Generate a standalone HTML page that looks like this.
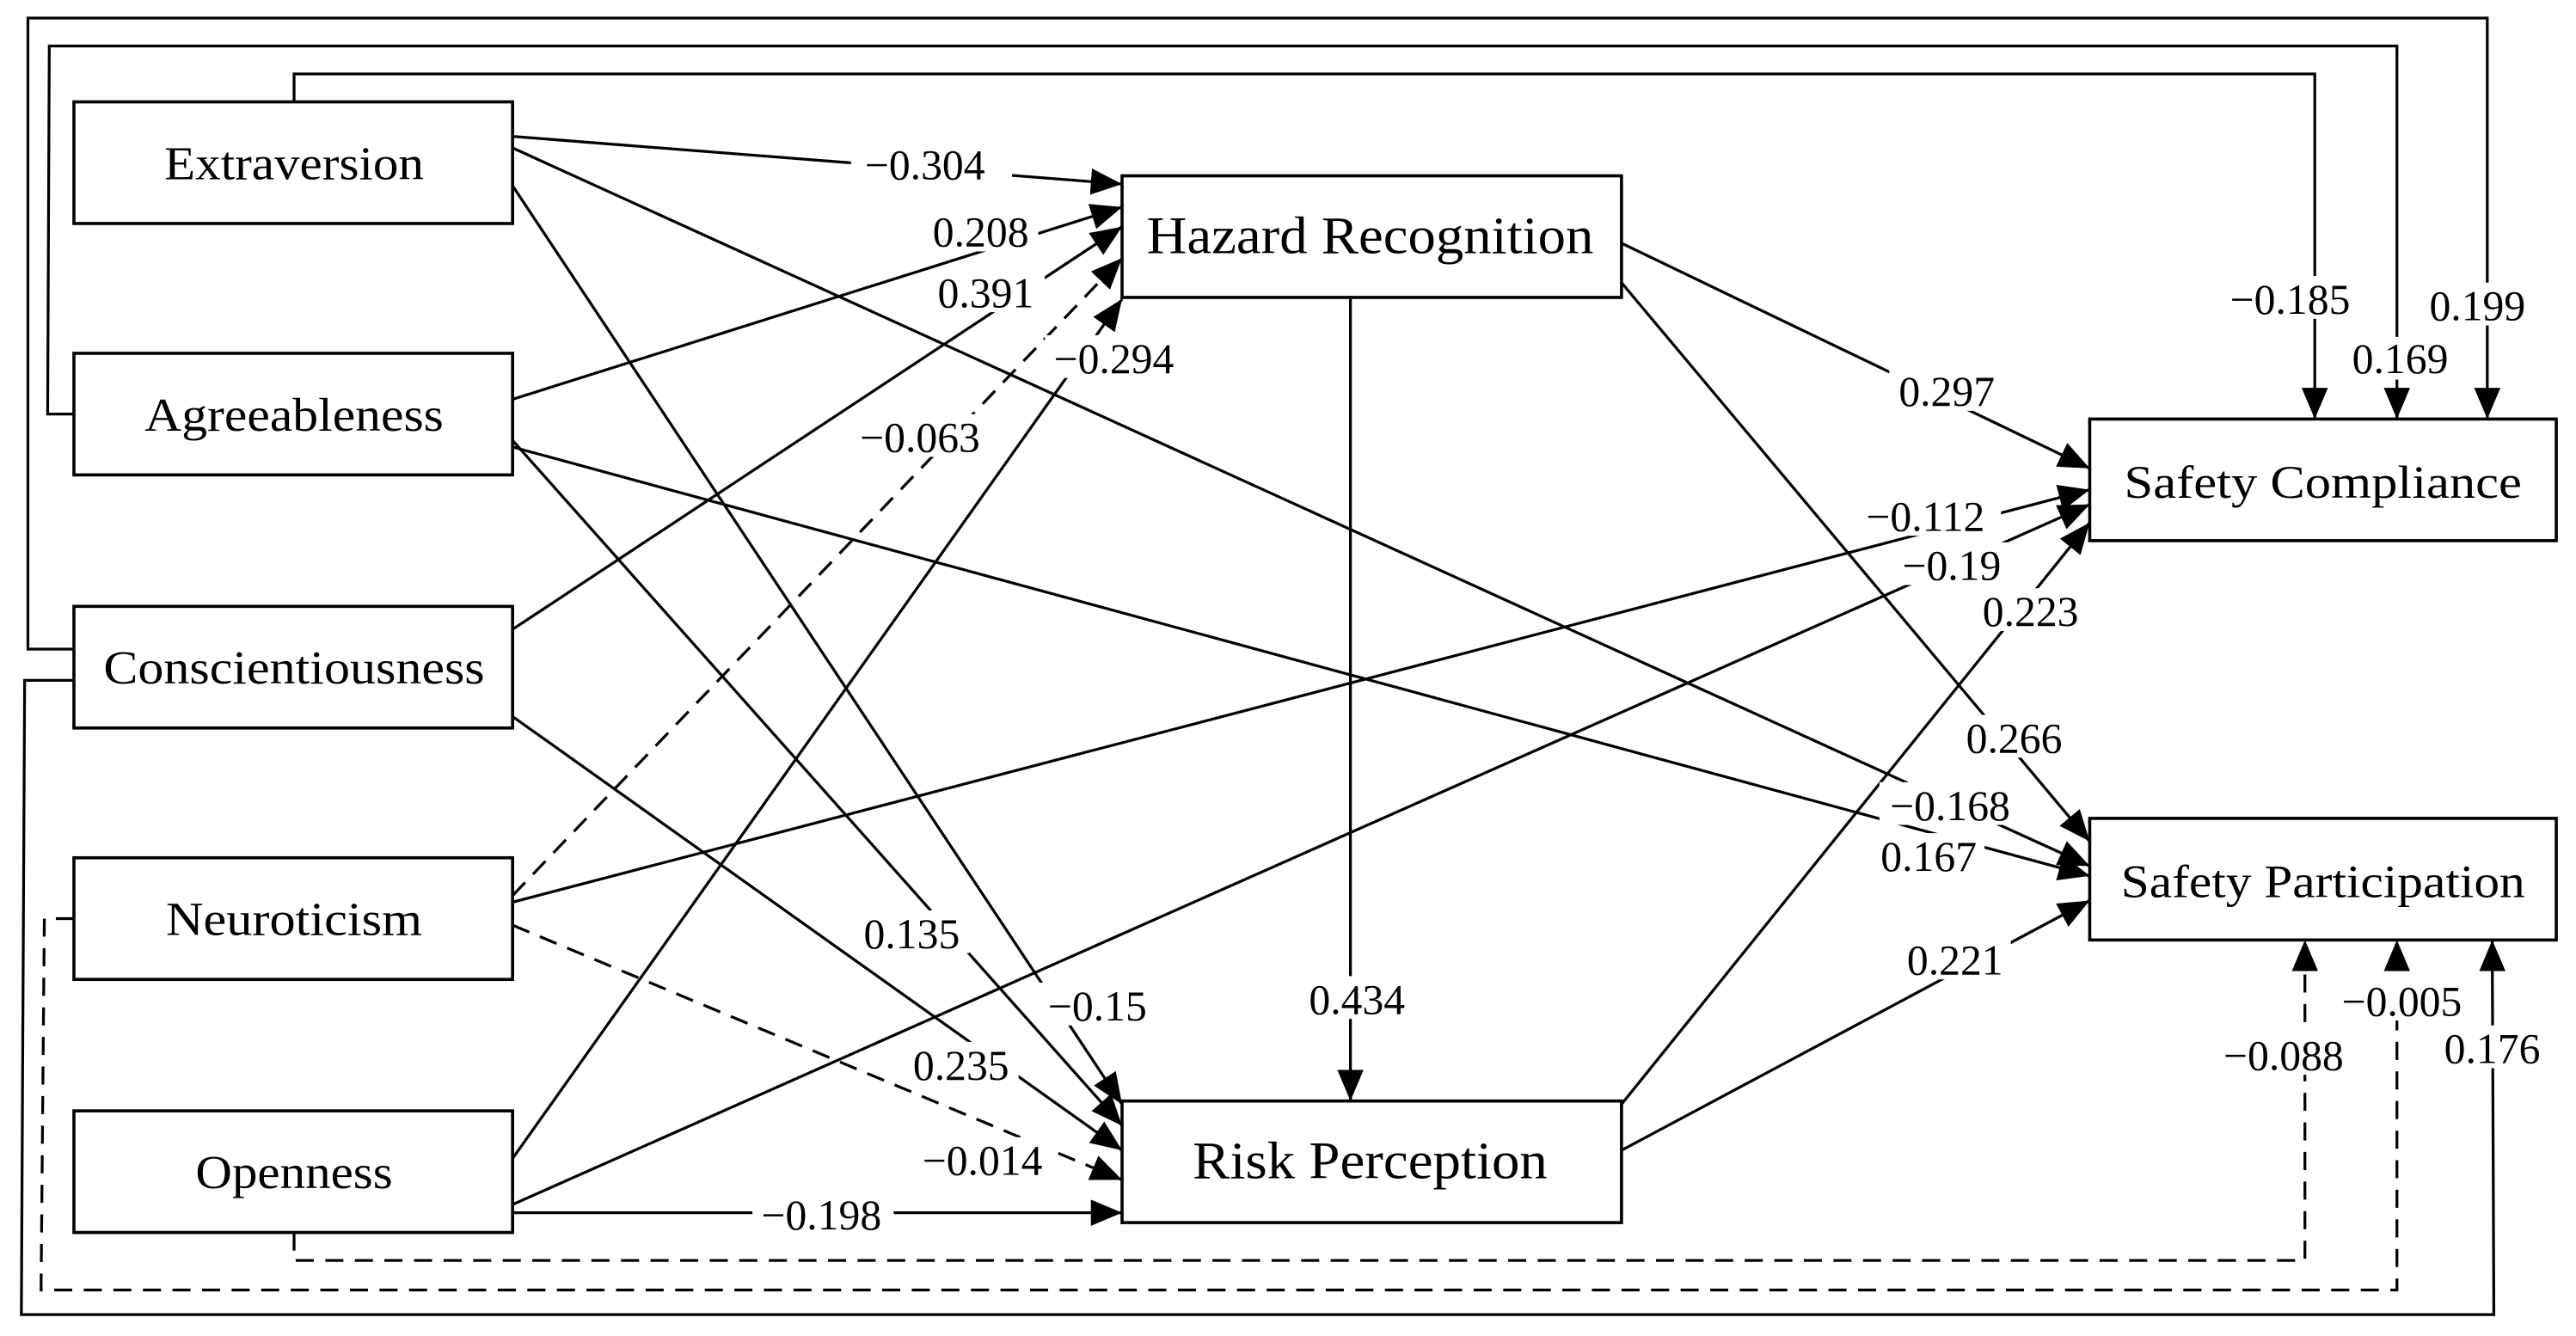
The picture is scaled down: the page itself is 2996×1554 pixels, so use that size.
<!DOCTYPE html>
<html><head><meta charset="utf-8"><style>
html,body{margin:0;padding:0;background:#fff;}
svg{display:block;}
text{font-family:"Liberation Serif",serif;fill:#000;}
</style></head><body>
<svg width="2996" height="1554" viewBox="0 0 1568 813" preserveAspectRatio="none" xmlns="http://www.w3.org/2000/svg">
<defs>
<marker id="a" markerUnits="userSpaceOnUse" markerWidth="22" markerHeight="18" refX="19" refY="8" orient="auto">
<path d="M0,0 L19,8 L0,16 z" fill="#000"/>
</marker>
</defs>
<rect width="1568" height="813" fill="#fff"/>
<g fill="none" stroke="#000" stroke-width="1.7">
<polyline points="45,395 17,395 17,11 1514,11 1514,255" marker-end="url(#a)"/>
<polyline points="45,252 29,252 30,28 1459,28 1459,255" marker-end="url(#a)"/>
<polyline points="179,62 179,45 1409,45 1409,255" marker-end="url(#a)"/>
<polyline points="179,750 179,767 1403,767 1403,572" stroke-dasharray="11,7" marker-end="url(#a)"/>
<polyline points="45,559 27,559 25,785 1459,785 1459,572" stroke-dasharray="11,7" marker-end="url(#a)"/>
<polyline points="45,414 15,414 13,800 1518,800 1517,572" marker-end="url(#a)"/>
<line x1="312" y1="83" x2="683" y2="112" marker-end="url(#a)"/>
<line x1="312" y1="243" x2="683" y2="126" marker-end="url(#a)"/>
<line x1="312" y1="383" x2="683" y2="138" marker-end="url(#a)"/>
<line x1="312" y1="545" x2="683" y2="157" stroke-dasharray="11,7" marker-end="url(#a)"/>
<line x1="312" y1="705" x2="683" y2="182" marker-end="url(#a)"/>
<line x1="312" y1="113" x2="683" y2="672" marker-end="url(#a)"/>
<line x1="312" y1="268" x2="683" y2="685" marker-end="url(#a)"/>
<line x1="312" y1="436" x2="683" y2="700" marker-end="url(#a)"/>
<line x1="312" y1="563" x2="683" y2="718" stroke-dasharray="11,7" marker-end="url(#a)"/>
<line x1="312" y1="738" x2="683" y2="738" marker-end="url(#a)"/>
<line x1="987" y1="148" x2="1272" y2="285" marker-end="url(#a)"/>
<line x1="312" y1="549" x2="1272" y2="298" marker-end="url(#a)"/>
<line x1="312" y1="733" x2="1272" y2="307" marker-end="url(#a)"/>
<line x1="987" y1="672" x2="1272" y2="318" marker-end="url(#a)"/>
<line x1="987" y1="172" x2="1272" y2="512" marker-end="url(#a)"/>
<line x1="312" y1="90" x2="1272" y2="527" marker-end="url(#a)"/>
<line x1="312" y1="272" x2="1272" y2="533" marker-end="url(#a)"/>
<line x1="987" y1="700" x2="1272" y2="548" marker-end="url(#a)"/>
<line x1="822" y1="181" x2="822" y2="670" marker-end="url(#a)"/>
</g>
<g fill="#fff" stroke="#000" stroke-width="1.9">
<rect x="45" y="62" width="267" height="74"/>
<rect x="45" y="215" width="267" height="74"/>
<rect x="45" y="369" width="267" height="74"/>
<rect x="45" y="522" width="267" height="74"/>
<rect x="45" y="676" width="267" height="74"/>
<rect x="683" y="107" width="304" height="74"/>
<rect x="683" y="670" width="304" height="74"/>
<rect x="1272" y="255" width="284" height="74"/>
<rect x="1272" y="498" width="284" height="74"/>
</g>
<g font-size="29" text-anchor="middle">
<text x="179" y="109" textLength="158" lengthAdjust="spacingAndGlyphs">Extraversion</text>
<text x="179" y="262" textLength="182" lengthAdjust="spacingAndGlyphs">Agreeableness</text>
<text x="179" y="416" textLength="232" lengthAdjust="spacingAndGlyphs">Conscientiousness</text>
<text x="179" y="569" textLength="156" lengthAdjust="spacingAndGlyphs">Neuroticism</text>
<text x="179" y="723" textLength="120" lengthAdjust="spacingAndGlyphs">Openness</text>
</g>
<g font-size="32" text-anchor="middle">
<text x="834" y="154" textLength="272" lengthAdjust="spacingAndGlyphs">Hazard Recognition</text>
<text x="834" y="717" textLength="216" lengthAdjust="spacingAndGlyphs">Risk Perception</text>
</g>
<g font-size="28" text-anchor="middle">
<text x="1414" y="303" textLength="242" lengthAdjust="spacingAndGlyphs">Safety Compliance</text>
<text x="1414" y="546" textLength="246" lengthAdjust="spacingAndGlyphs">Safety Participation</text>
</g>
<g font-size="26" text-anchor="middle">
<g fill="#fff" stroke="none">
<rect x="518" y="86" width="98" height="26"/>
<rect x="562" y="127" width="70" height="26"/>
<rect x="566" y="164" width="70" height="26"/>
<rect x="516" y="252" width="92" height="26"/>
<rect x="636" y="204" width="86" height="26"/>
<rect x="630" y="598" width="76" height="26"/>
<rect x="520" y="554" width="70" height="26"/>
<rect x="550" y="634" width="70" height="26"/>
<rect x="556" y="692" width="84" height="26"/>
<rect x="458" y="725" width="86" height="26"/>
<rect x="1150" y="224" width="70" height="26"/>
<rect x="1128" y="300" width="90" height="26"/>
<rect x="1152" y="330" width="72" height="26"/>
<rect x="1200" y="358" width="70" height="26"/>
<rect x="1190" y="435" width="70" height="26"/>
<rect x="1144" y="476" width="86" height="26"/>
<rect x="1138" y="507" width="70" height="26"/>
<rect x="1154" y="570" width="70" height="26"/>
<rect x="790" y="594" width="70" height="26"/>
<rect x="1350" y="168" width="88" height="26"/>
<rect x="1428" y="205" width="64" height="26"/>
<rect x="1474" y="172" width="66" height="26"/>
<rect x="1346" y="628" width="88" height="26"/>
<rect x="1418" y="595" width="86" height="26"/>
<rect x="1484" y="624" width="66" height="26"/>
</g>
<text x="563" y="109">−0.304</text>
<text x="597" y="150">0.208</text>
<text x="600" y="187">0.391</text>
<text x="560" y="275">−0.063</text>
<text x="678" y="227">−0.294</text>
<text x="668" y="621">−0.15</text>
<text x="555" y="577">0.135</text>
<text x="585" y="657">0.235</text>
<text x="598" y="715">−0.014</text>
<text x="500" y="748">−0.198</text>
<text x="1185" y="247">0.297</text>
<text x="1172" y="323">−0.112</text>
<text x="1188" y="353">−0.19</text>
<text x="1236" y="381">0.223</text>
<text x="1226" y="458">0.266</text>
<text x="1187" y="499">−0.168</text>
<text x="1174" y="530">0.167</text>
<text x="1190" y="593">0.221</text>
<text x="826" y="617">0.434</text>
<text x="1394" y="191">−0.185</text>
<text x="1461" y="227">0.169</text>
<text x="1508" y="195">0.199</text>
<text x="1390" y="651">−0.088</text>
<text x="1462" y="618">−0.005</text>
<text x="1517" y="647">0.176</text>
</g>
</svg>
</body></html>
